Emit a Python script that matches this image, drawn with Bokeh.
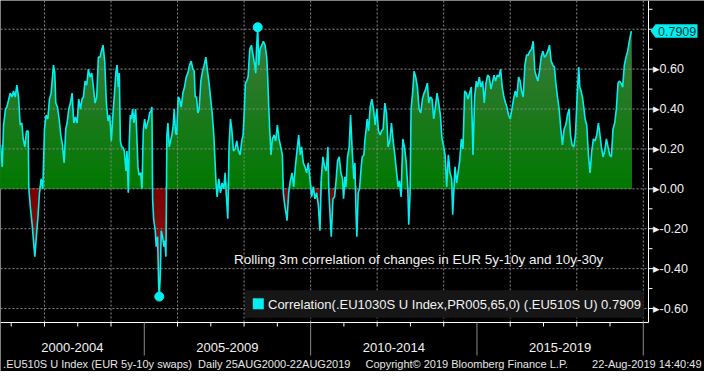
import numpy as np
from bokeh.plotting import figure
from bokeh.models import Range1d
from bokeh.core.properties import value
from bokeh.embed import file_html
from bokeh.resources import INLINE

# ---------------- data ----------------
dates = [
    2000.68, 2000.73, 2000.77, 2000.83, 2000.87, 2000.97, 2001.02, 2001.07, 2001.12, 2001.17,
    2001.22, 2001.27, 2001.32, 2001.36, 2001.41, 2001.46, 2001.51, 2001.53, 2001.58, 2001.63,
    2001.66, 2001.71, 2001.76, 2001.80, 2001.85, 2001.90, 2001.95, 2002.00, 2002.05, 2002.10,
    2002.15, 2002.20, 2002.24, 2002.27, 2002.31, 2002.34, 2002.39, 2002.44, 2002.49, 2002.54,
    2002.59, 2002.64, 2002.68, 2002.73, 2002.78, 2002.83, 2002.88, 2002.93, 2002.98, 2003.03,
    2003.08, 2003.13, 2003.17, 2003.22, 2003.27, 2003.32, 2003.37, 2003.42, 2003.47, 2003.52,
    2003.57, 2003.62, 2003.67, 2003.71, 2003.76, 2003.81, 2003.86, 2003.91, 2003.96, 2004.01,
    2004.06, 2004.11, 2004.15, 2004.18, 2004.22, 2004.25, 2004.28, 2004.32, 2004.35, 2004.40,
    2004.45, 2004.48, 2004.52, 2004.55, 2004.58, 2004.61, 2004.65, 2004.69, 2004.74, 2004.77,
    2004.81, 2004.84, 2004.89, 2004.93, 2004.97, 2005.01, 2005.05, 2005.08, 2005.13, 2005.16,
    2005.20, 2005.23, 2005.25, 2005.28, 2005.33, 2005.36, 2005.40, 2005.43, 2005.45, 2005.48,
    2005.51, 2005.55, 2005.59, 2005.62, 2005.65, 2005.68, 2005.71, 2005.75, 2005.79, 2005.83,
    2005.87, 2005.90, 2005.94, 2005.97, 2006.02, 2006.06, 2006.11, 2006.16, 2006.21, 2006.26,
    2006.31, 2006.36, 2006.41, 2006.46, 2006.50, 2006.53, 2006.57, 2006.61, 2006.65, 2006.70,
    2006.75, 2006.80, 2006.85, 2006.90, 2006.94, 2006.99, 2007.04, 2007.09, 2007.12, 2007.16,
    2007.19, 2007.24, 2007.29, 2007.34, 2007.39, 2007.43, 2007.48, 2007.51, 2007.55, 2007.59,
    2007.63, 2007.68, 2007.73, 2007.78, 2007.83, 2007.88, 2007.93, 2007.97, 2008.00, 2008.04,
    2008.08, 2008.12, 2008.17, 2008.22, 2008.27, 2008.32, 2008.35, 2008.37, 2008.41, 2008.44,
    2008.48, 2008.53, 2008.58, 2008.63, 2008.68, 2008.71, 2008.74, 2008.77, 2008.81, 2008.85,
    2008.90, 2008.95, 2009.00, 2009.05, 2009.10, 2009.15, 2009.18, 2009.22, 2009.26, 2009.29,
    2009.34, 2009.39, 2009.44, 2009.49, 2009.54, 2009.59, 2009.64, 2009.69, 2009.73, 2009.78,
    2009.83, 2009.88, 2009.93, 2009.98, 2010.03, 2010.08, 2010.13, 2010.18, 2010.23, 2010.28,
    2010.32, 2010.37, 2010.42, 2010.47, 2010.52, 2010.55, 2010.59, 2010.62, 2010.67, 2010.72,
    2010.76, 2010.81, 2010.86, 2010.91, 2010.96, 2010.99, 2011.03, 2011.06, 2011.11, 2011.16,
    2011.20, 2011.25, 2011.30, 2011.33, 2011.37, 2011.39, 2011.43, 2011.47, 2011.52, 2011.55,
    2011.60, 2011.63, 2011.67, 2011.70, 2011.74, 2011.79, 2011.84, 2011.89, 2011.94, 2011.99,
    2012.04, 2012.09, 2012.13, 2012.18, 2012.23, 2012.28, 2012.33, 2012.38, 2012.43, 2012.48,
    2012.53, 2012.58, 2012.63, 2012.67, 2012.72, 2012.77, 2012.82, 2012.87, 2012.92, 2012.95,
    2012.99, 2013.02, 2013.07, 2013.11, 2013.16, 2013.21, 2013.26, 2013.31, 2013.36, 2013.41,
    2013.46, 2013.51, 2013.55, 2013.60, 2013.65, 2013.70, 2013.75, 2013.80, 2013.85, 2013.90,
    2013.95, 2013.99, 2014.04, 2014.09, 2014.14, 2014.19, 2014.24, 2014.27, 2014.31, 2014.34,
    2014.39, 2014.43, 2014.48, 2014.53, 2014.58, 2014.63, 2014.68, 2014.73, 2014.78, 2014.83,
    2014.88, 2014.93, 2014.98, 2015.02, 2015.07, 2015.12, 2015.17, 2015.22, 2015.27, 2015.32,
    2015.37, 2015.42, 2015.46, 2015.51, 2015.56, 2015.61, 2015.66, 2015.71, 2015.76, 2015.81,
    2015.86, 2015.90, 2015.95, 2016.00, 2016.05, 2016.10, 2016.15, 2016.20, 2016.25, 2016.30,
    2016.34, 2016.39, 2016.44, 2016.49, 2016.54, 2016.59, 2016.64, 2016.69, 2016.74, 2016.79,
    2016.83, 2016.88, 2016.93, 2016.98, 2017.03, 2017.08, 2017.13, 2017.18, 2017.23, 2017.28,
    2017.33, 2017.37, 2017.42, 2017.47, 2017.52, 2017.57, 2017.62, 2017.67, 2017.72, 2017.77,
    2017.81, 2017.86, 2017.91, 2017.96, 2018.01, 2018.06, 2018.09, 2018.13, 2018.17, 2018.21,
    2018.25, 2018.30, 2018.35, 2018.40, 2018.45, 2018.50, 2018.55, 2018.60, 2018.65, 2018.69,
    2018.74, 2018.79, 2018.84, 2018.89, 2018.94, 2018.99, 2019.04, 2019.09, 2019.14, 2019.19,
    2019.24, 2019.28, 2019.33, 2019.38, 2019.43, 2019.48, 2019.53, 2019.58, 2019.64,
]

corr = [
    0.22, 0.11, 0.32, 0.40, 0.41, 0.48, 0.46, 0.49, 0.46, 0.52,
    0.46, 0.32, 0.33, 0.25, 0.21, 0.29, 0.29, 0.00, -0.10, -0.18,
    -0.24, -0.34, -0.23, -0.15, -0.02, 0.05, 0.00, 0.30, 0.37, 0.35,
    0.45, 0.48, 0.56, 0.62, 0.58, 0.43, 0.41, 0.35, 0.27, 0.22,
    0.13, 0.30, 0.33, 0.40, 0.43, 0.48, 0.33, 0.36, 0.33, 0.45,
    0.40, 0.45, 0.46, 0.54, 0.52, 0.60, 0.56, 0.58, 0.51, 0.43,
    0.46, 0.66, 0.66, 0.69, 0.72, 0.64, 0.43, 0.34, 0.37, 0.24,
    0.38, 0.49, 0.59, 0.62, 0.51, 0.58, 0.24, 0.21, 0.21, 0.19,
    0.09, 0.19, -0.02, 0.24, 0.37, 0.35, 0.40, 0.33, 0.40, 0.29,
    0.11, 0.07, 0.08, 0.00, 0.29, 0.35, 0.30, 0.32, 0.35, 0.38,
    0.39, 0.41, -0.05, -0.15, -0.21, -0.29, -0.24, -0.47, -0.54, -0.44,
    -0.21, -0.24, -0.29, -0.26, -0.34, 0.27, 0.33, 0.21, 0.24, 0.27,
    0.32, 0.40, 0.28, 0.27, 0.46, 0.45, 0.41, 0.48, 0.51, 0.56,
    0.58, 0.62, 0.64, 0.60, 0.59, 0.46, 0.46, 0.38, 0.40, 0.54,
    0.59, 0.62, 0.66, 0.59, 0.54, 0.46, 0.38, 0.27, 0.16, 0.02,
    -0.04, 0.05, -0.02, 0.03, 0.00, 0.08, -0.07, -0.15, 0.22, 0.35,
    0.30, 0.19, 0.20, 0.24, 0.19, 0.17, 0.24, 0.27, 0.37, 0.53,
    0.54, 0.56, 0.70, 0.72, 0.67, 0.62, 0.58, 0.69, 0.81, 0.62,
    0.70, 0.72, 0.74, 0.72, 0.66, 0.56, 0.41, 0.30, 0.17, 0.25,
    0.27, 0.24, 0.32, 0.25, 0.21, 0.17, -0.02, -0.08, -0.12, -0.16,
    -0.02, 0.04, 0.08, 0.01, 0.11, 0.19, 0.27, 0.17, 0.21, 0.13,
    0.11, 0.08, 0.13, 0.05, -0.04, 0.01, -0.05, -0.02, -0.08, -0.21,
    0.05, 0.16, 0.11, 0.09, 0.21, -0.02, -0.15, -0.24, -0.05, -0.04,
    0.03, 0.14, 0.16, 0.08, 0.05, -0.05, 0.06, 0.01, 0.16, 0.21,
    0.37, 0.19, 0.05, 0.13, -0.15, -0.24, -0.02, 0.00, 0.11, 0.16,
    0.17, 0.24, 0.30, 0.35, 0.29, 0.41, 0.45, 0.40, 0.32, 0.40,
    0.29, 0.27, 0.29, 0.30, 0.43, 0.38, 0.21, 0.24, 0.33, 0.24,
    0.17, 0.09, 0.01, 0.04, -0.04, 0.25, 0.21, 0.14, 0.01, -0.18,
    -0.02, 0.40, 0.49, 0.59, 0.56, 0.51, 0.40, 0.38, 0.45, 0.48,
    0.50, 0.53, 0.43, 0.46, 0.45, 0.35, 0.41, 0.48, 0.43, 0.37,
    0.25, 0.22, 0.17, 0.01, 0.17, 0.08, 0.05, -0.13, 0.01, 0.11,
    0.03, 0.08, 0.14, 0.25, 0.20, 0.49, 0.48, 0.45, 0.48, 0.51,
    0.17, 0.46, 0.54, 0.51, 0.56, 0.51, 0.54, 0.43, 0.53, 0.57,
    0.56, 0.50, 0.53, 0.57, 0.54, 0.57, 0.56, 0.60, 0.51, 0.46,
    0.43, 0.41, 0.37, 0.35, 0.40, 0.45, 0.49, 0.46, 0.56, 0.54,
    0.49, 0.46, 0.62, 0.67, 0.67, 0.69, 0.70, 0.74, 0.59, 0.56,
    0.54, 0.59, 0.66, 0.69, 0.66, 0.67, 0.69, 0.72, 0.64, 0.62,
    0.61, 0.53, 0.46, 0.40, 0.30, 0.22, 0.30, 0.32, 0.37, 0.40,
    0.27, 0.22, 0.21, 0.27, 0.46, 0.61, 0.51, 0.49, 0.46, 0.41,
    0.35, 0.32, 0.17, 0.08, 0.19, 0.25, 0.24, 0.27, 0.33, 0.28,
    0.21, 0.16, 0.19, 0.25, 0.21, 0.17, 0.16, 0.30, 0.33, 0.40,
    0.53, 0.54, 0.53, 0.51, 0.62, 0.66, 0.69, 0.74, 0.7909,
]

last_value = 0.7909

period_labels = ["2000-2004", "2005-2009", "2010-2014", "2015-2019"]
period_starts = [2000, 2005, 2010, 2015]
x_major_ticks = [2005, 2010, 2015, 2020]
x_minor_ticks = [2001, 2002, 2003, 2004, 2006, 2007, 2008, 2009, 2011, 2012, 2013, 2014,
                 2016, 2017, 2018, 2019]
x_grid_ticks = [2002, 2004, 2006, 2008, 2010, 2012, 2014, 2016, 2018, 2020]
y_ticks = [-0.6, -0.4, -0.2, 0.0, 0.2, 0.4, 0.6, 0.8]
y_minor_ticks = [-0.5, -0.3, -0.1, 0.1, 0.3, 0.5, 0.7, 0.9]

annotation_text = "Rolling 3m correlation of changes in EUR 5y-10y and 10y-30y"
legend_text = "Correlation(.EU1030S U Index,PR005,65,0) (.EU510S U) 0.7909"
footer_left = ".EU510S U Index (EUR 5y-10y swaps)\u00a0 Daily 25AUG2000-22AUG2019"
footer_mid = "Copyright\u00a9 2019 Bloomberg Finance L.P."
footer_right = "22-Aug-2019 14:40:49"

# ---------------- layout / style ----------------
CYAN = "#00f0f0"
FONT = value("Liberation Sans")
W, H = 704, 371
PW, PH = 648, 322            # plot area (pixels) inside the canvas
X0, X1 = 2000.678, 2020.156  # time span of the plot area
Y0, Y1 = -0.670, 0.944       # value span of the plot area
DX = (X1 - X0) / PW
DY = (Y1 - Y0) / PH
XE = X0 + W * DX             # canvas right edge in data units
YB = Y1 - H * DY             # canvas bottom edge in data units


def px_x(px):
    return X0 + px * DX


def px_y(py):  # py measured in pixels from the top
    return Y1 - py * DY


def mix(c0, c1, f):
    f = max(0.0, min(1.0, f))
    return "#%02x%02x%02x" % tuple(int(round(a + (b - a) * f)) for a, b in zip(c0, c1))


p = figure(width=W, height=H, x_range=Range1d(X0, XE), y_range=Range1d(YB, Y1),
           x_axis_type=None, y_axis_type=None, output_backend="svg", toolbar_location=None,
           background_fill_color="black", border_fill_color="black", outline_line_color=None,
           min_border=0)
p.xgrid.visible = False
p.ygrid.visible = False

t = np.array(dates)
v = np.array(corr)

# gradient green fill above zero (tallest band first)
for top in np.round(np.arange(0.85, 0.0, -0.05), 2):
    col = mix((0, 120, 0), (62, 122, 62), (top - 0.025) / 0.8)
    p.varea(x=t, y1=0, y2=np.clip(v, 0, top), fill_color=col)

# gradient red fill below zero
for bot in np.round(np.arange(-0.60, 0.0, 0.05), 2):
    col = mix((120, 0, 0), (142, 30, 30), (-bot - 0.025) / 0.5)
    p.varea(x=t, y1=np.clip(v, bot, 0), y2=0, fill_color=col)

# dotted grid inside the plot area
GRID = "#8c8c8c"
p.segment(x0=x_grid_ticks, y0=[Y0] * len(x_grid_ticks), x1=x_grid_ticks, y1=[Y1] * len(x_grid_ticks),
          line_color=GRID, line_dash="2 2", line_width=1)
p.segment(x0=[X0] * len(y_ticks), y0=y_ticks, x1=[X1] * len(y_ticks), y1=y_ticks,
          line_color=GRID, line_dash="2 2", line_width=1)

# the series
p.line(t, v, line_color=CYAN, line_width=1.6)
imax, imin = int(np.argmax(v)), int(np.argmin(v))
p.scatter([t[imax], t[imin]], [v[imax], v[imin]], size=9, color=CYAN, line_color=CYAN)

# axis lines
p.segment(x0=[X0], y0=[Y0], x1=[X1], y1=[Y0], line_color="white", line_width=1)
p.segment(x0=[X1], y0=[Y0], x1=[X1], y1=[Y1], line_color="white", line_width=1)

# bottom ticks: yearly minor ticks and long grey period separators
p.segment(x0=x_minor_ticks, y0=[Y0] * len(x_minor_ticks), x1=x_minor_ticks,
          y1=[px_y(PH + 4)] * len(x_minor_ticks), line_color="white", line_width=1)
p.segment(x0=x_major_ticks, y0=[Y0] * len(x_major_ticks), x1=x_major_ticks,
          y1=[px_y(PH + 33)] * len(x_major_ticks), line_color="#8a8a8a", line_width=1)

# period labels
bounds = period_starts[1:] + [period_starts[-1] + 5]
centers = [(max(s, X0) + e) / 2 for s, e in zip(period_starts, bounds)]
p.text(x=centers, y=[px_y(PH + 25)] * len(centers), text=period_labels, text_align="center",
       text_baseline="middle", text_color="#f2f2f2", text_font=FONT, text_font_size="13px")

# right axis ticks and labels
p.segment(x0=[X1] * len(y_ticks), y0=y_ticks, x1=[px_x(PW + 5)] * len(y_ticks), y1=y_ticks,
          line_color="white", line_width=1)
p.segment(x0=[X1] * len(y_minor_ticks), y0=y_minor_ticks, x1=[px_x(PW + 4)] * len(y_minor_ticks),
          y1=y_minor_ticks, line_color="white", line_width=1)
shown = [tk for tk in y_ticks if abs(tk - last_value) > 0.05]
p.text(x=[px_x(PW + 4)] * len(shown), y=shown, text=["\u25b8%.2f" % tk for tk in shown],
       text_align="left", text_baseline="middle", text_color="#f2f2f2", text_font=FONT,
       text_font_size="12.5px")

# last-value box on the right axis
hh = 6.7 * DY
p.patch(x=[px_x(PW + 2), px_x(PW + 7), px_x(PW + 49), px_x(PW + 49), px_x(PW + 7)],
        y=[last_value, last_value + hh, last_value + hh, last_value - hh, last_value - hh],
        fill_color=CYAN, line_color=None)
p.text(x=[px_x(PW + 9.5)], y=[last_value], text=["%.4f" % last_value], text_align="left",
       text_baseline="middle", text_color="#063a3a", text_font=FONT, text_font_size="12.5px")

# annotation text
p.text(x=[px_x(233.6)], y=[px_y(258.8)], text=[annotation_text], text_align="left",
       text_baseline="middle", text_color="#f2f2f2", text_font=FONT, text_font_size="13.5px")

# legend box
p.quad(left=[px_x(244.5)], right=[px_x(643.2)], top=[px_y(289.8)], bottom=[px_y(317.2)],
       fill_color="#161616", line_color=None)
p.quad(left=[px_x(252.3)], right=[px_x(263.3)], top=[px_y(297.8)], bottom=[px_y(308.8)],
       fill_color=CYAN, line_color=None)
p.text(x=[px_x(267.5)], y=[px_y(304.0)], text=[legend_text], text_align="left",
       text_baseline="middle", text_color="#f2f2f2", text_font=FONT, text_font_size="13px")

# footer
p.text(x=[px_x(2.6), px_x(365.0)], y=[px_y(PH + 41.7)] * 2, text=[footer_left, footer_mid],
       text_align="left", text_baseline="middle", text_color="#e6e6e6", text_font=FONT,
       text_font_size="11px")
p.text(x=[px_x(701.0)], y=[px_y(PH + 41.7)], text=[footer_right], text_align="right",
       text_baseline="middle", text_color="#e6e6e6", text_font=FONT, text_font_size="11px")

open("out.html", "w").write(file_html(p, INLINE))
